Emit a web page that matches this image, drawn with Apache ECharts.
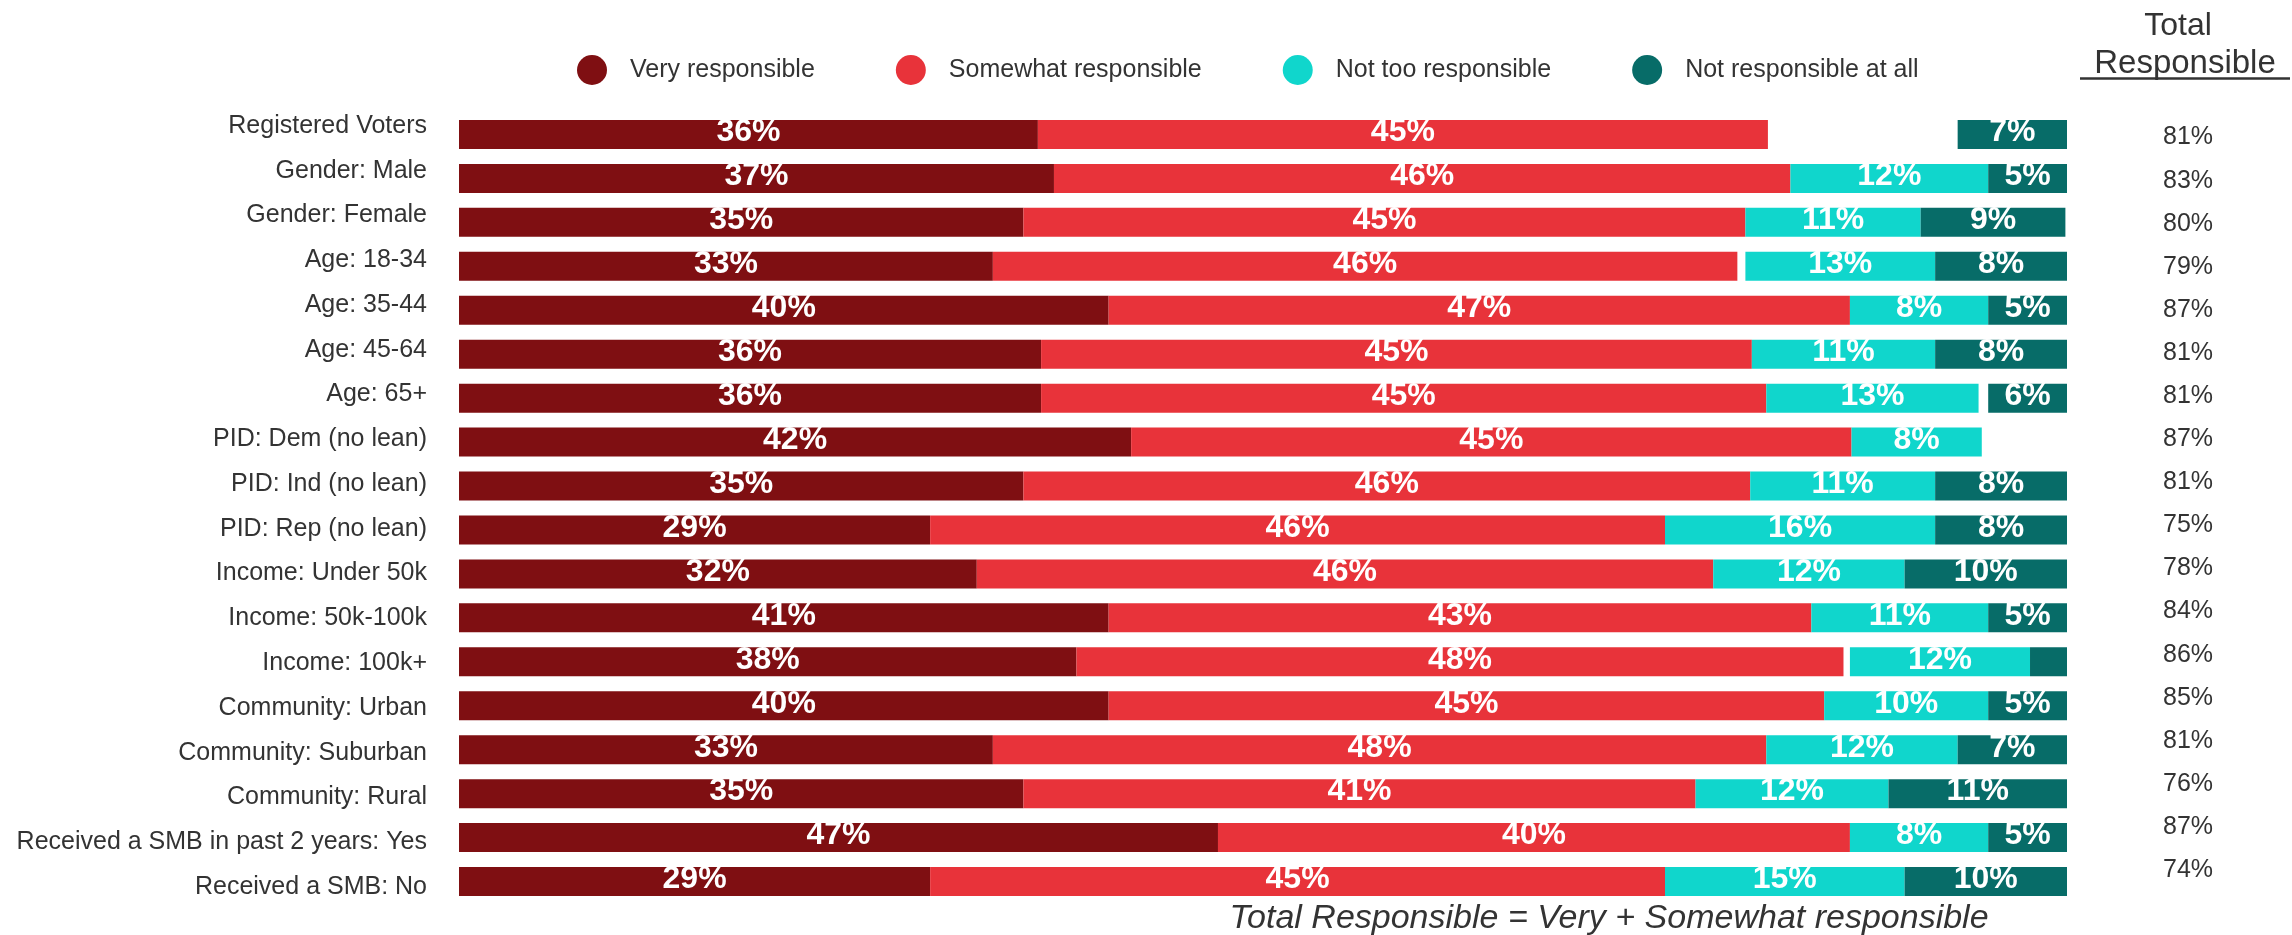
<!DOCTYPE html>
<html>
<head>
<meta charset="utf-8">
<script src="https://cdn.jsdelivr.net/npm/echarts@6/dist/echarts.min.js"></script>
<style>
  html, body { margin: 0; padding: 0; background: #ffffff; }
  #chart { width: 2292px; height: 935px; }
</style>
</head>
<body>
<div id="chart"></div>
<script>
// ---- Data ----
const categories = [
  'Registered Voters', 'Gender: Male', 'Gender: Female', 'Age: 18-34', 'Age: 35-44',
  'Age: 45-64', 'Age: 65+', 'PID: Dem (no lean)', 'PID: Ind (no lean)', 'PID: Rep (no lean)',
  'Income: Under 50k', 'Income: 50k-100k', 'Income: 100k+', 'Community: Urban',
  'Community: Suburban', 'Community: Rural', 'Received a SMB in past 2 years: Yes', 'Received a SMB: No'
];
const seriesNames = ['Very responsible', 'Somewhat responsible', 'Not too responsible', 'Not responsible at all'];

// bar lengths as drawn (percent)
const veryValues      = [36.0, 37.0, 35.1, 33.2, 40.4, 36.2, 36.2, 41.8, 35.1, 29.3, 32.2, 40.4, 38.4, 40.4, 33.2, 35.1, 47.2, 29.3];
const somewhatValues  = [45.4, 45.8, 44.9, 46.3, 46.1, 44.2, 45.1, 44.8, 45.2, 45.7, 45.8, 43.7, 47.7, 44.5, 48.1, 41.8, 39.3, 45.7];
const gapBeforeNotToo = [11.8, 0, 0, 0.5, 0, 0, 0, 0, 0, 0, 0, 0, 0.4, 0, 0, 0, 0, 0];
const notTooValues    = [null, 12.3, 10.9, 11.8, 8.6, 11.4, 13.2, 8.1, 11.5, 16.8, 11.9, 11.0, 11.2, 10.2, 11.9, 12.0, 8.6, 14.9];
const gapBeforeNotAtAll = [0, 0, 0, 0, 0, 0, 0.6, 0, 0, 0, 0, 0, 0, 0, 0, 0, 0, 0];
const notAtAllValues  = [6.8, 4.9, 9.0, 8.2, 4.9, 8.2, 4.9, null, 8.2, 8.2, 10.1, 4.9, 2.3, 4.9, 6.8, 11.1, 4.9, 10.1];

// printed data labels (percent)
const veryLabels     = [36, 37, 35, 33, 40, 36, 36, 42, 35, 29, 32, 41, 38, 40, 33, 35, 47, 29];
const somewhatLabels = [45, 46, 45, 46, 47, 45, 45, 45, 46, 46, 46, 43, 48, 45, 48, 41, 40, 45];
const notTooLabels   = [null, 12, 11, 13, 8, 11, 13, 8, 11, 16, 12, 11, 12, 10, 12, 12, 8, 15];
const notAtAllLabels = [7, 5, 9, 8, 5, 8, 6, null, 8, 8, 10, 5, null, 5, 7, 11, 5, 10];

// right column: Total Responsible
const totalResponsible = [81, 83, 80, 79, 87, 81, 81, 87, 81, 75, 78, 84, 86, 85, 81, 76, 87, 74];

// ---- Styling ----
const FONT = '"Liberation Sans", Arial, sans-serif';
const TEXT = '#333333';
const colors = ['#7F0F12', '#E8333A', '#10D6CC', '#076C68'];

function barSeries(name, data, color, labels) {
  return {
    type: 'bar', name: name, stack: 'total', data: data,
    xAxisIndex: 0, yAxisIndex: 0, barWidth: 29,
    itemStyle: { color: color },
    label: {
      show: true, position: 'inside', offset: [0, -2],
      color: '#ffffff', fontWeight: 'bold', fontSize: 32, fontFamily: FONT,
      formatter: function (p) { const v = labels[p.dataIndex]; return v == null ? '' : v + '%'; }
    },
    emphasis: { disabled: true }, silent: true
  };
}
function gapSeries(name, data) {
  return {
    type: 'bar', name: name, stack: 'total', data: data,
    xAxisIndex: 0, yAxisIndex: 0, barWidth: 29,
    itemStyle: { color: 'rgba(0,0,0,0)' }, label: { show: false },
    emphasis: { disabled: true }, silent: true
  };
}

const chart = echarts.init(document.getElementById('chart'), null, { renderer: 'canvas' });
chart.setOption({
  animation: false,
  backgroundColor: '#ffffff',
  legend: {
    data: seriesNames, left: 572, top: 50,
    icon: 'circle', itemWidth: 30, itemHeight: 30, itemGap: 81,
    selectedMode: false,
    textStyle: { fontSize: 25, color: TEXT, fontFamily: FONT, padding: [0, 0, 6, 18] }
  },
  grid: [
    { left: 459, width: 1608, top: 112.5, height: 791 },
    { left: 430, width: 1, top: 103.6, height: 805.7 },
    { left: 2188, width: 1, top: 116, height: 775.6 }
  ],
  xAxis: [
    { gridIndex: 0, type: 'value', min: 0, max: 100, show: false },
    { gridIndex: 1, type: 'value', min: 0, max: 1, show: false },
    { gridIndex: 2, type: 'value', min: 0, max: 1, show: false }
  ],
  yAxis: [
    { gridIndex: 0, type: 'category', data: categories, inverse: true, show: false },
    {
      gridIndex: 1, type: 'category', data: categories, inverse: true,
      axisLine: { show: false }, axisTick: { show: false }, splitLine: { show: false },
      axisLabel: { margin: 3, fontSize: 25, color: TEXT, fontFamily: FONT }
    },
    {
      gridIndex: 2, type: 'category', data: categories, inverse: true,
      axisLine: { show: false }, axisTick: { show: false }, splitLine: { show: false },
      axisLabel: {
        margin: 0, align: 'center', fontSize: 25, color: TEXT, fontFamily: FONT,
        formatter: function (v, i) { return totalResponsible[i] + '%'; }
      }
    }
  ],
  series: [
    barSeries(seriesNames[0], veryValues, colors[0], veryLabels),
    barSeries(seriesNames[1], somewhatValues, colors[1], somewhatLabels),
    gapSeries('gapA', gapBeforeNotToo),
    barSeries(seriesNames[2], notTooValues, colors[2], notTooLabels),
    gapSeries('gapB', gapBeforeNotAtAll),
    barSeries(seriesNames[3], notAtAllValues, colors[3], notAtAllLabels)
  ],
  graphic: [
    { type: 'text', x: 2178, y: 26, style: { text: 'Total', fontSize: 32, fontFamily: FONT, fill: TEXT, textAlign: 'center', textVerticalAlign: 'middle' } },
    { type: 'text', x: 2185, y: 64, style: { text: 'Responsible', fontSize: 33, fontFamily: FONT, fill: TEXT, textAlign: 'center', textVerticalAlign: 'middle' } },
    { type: 'line', shape: { x1: 2080, y1: 78.5, x2: 2290, y2: 78.5 }, style: { stroke: TEXT, lineWidth: 2.5 } },
    { type: 'text', x: 1609, y: 919, style: { text: 'Total Responsible = Very + Somewhat responsible', fontSize: 34, fontStyle: 'italic', fontFamily: FONT, fill: TEXT, textAlign: 'center', textVerticalAlign: 'middle' } }
  ]
});
</script>
</body>
</html>
